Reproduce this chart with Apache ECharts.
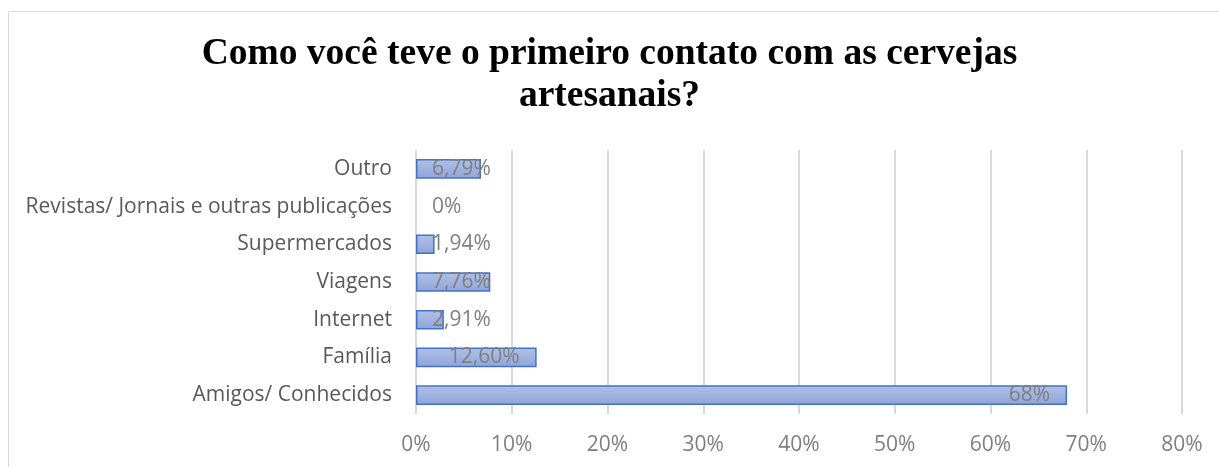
<!DOCTYPE html>
<html><head><meta charset="utf-8">
<script src="https://cdn.jsdelivr.net/npm/echarts@6/dist/echarts.min.js"></script>
<style>html,body{margin:0;padding:0;background:#fff;}#c{width:1219px;height:467px;}</style>
</head><body><div id="c"></div>
<script>
const categories = ['Amigos/ Conhecidos','Família','Internet','Viagens','Supermercados','Revistas/ Jornais e outras publicações','Outro'];
const values = [68, 12.60, 2.91, 7.76, 1.94, 0, 6.79];
const valueLabels = ['68%','12,60%','2,91%','7,76%','1,94%','0%','6,79%'];
const xTicks = [0,10,20,30,40,50,60,70,80];

const chart = echarts.init(document.getElementById('c'));
const data = values.map((v,i)=>({
  value: v,
  itemStyle: v === 0 ? {borderWidth:0} : undefined,
  label: {
    show: true,
    position: v < 10 ? 'insideLeft' : 'insideRight',
    distance: v < 10 ? 16 : 17,
    formatter: valueLabels[i]
  }
}));
chart.setOption({
  animation:false,
  graphic:[{type:'rect',shape:{x:8.5,y:11.5,width:1400,height:1000},style:{fill:'none',stroke:'#d9d9d9',lineWidth:1},silent:true,z:-10}],
  title:{
    text:'Como você teve o primeiro contato com as cervejas\nartesanais?',
    left:'center', top:28,
    textStyle:{fontFamily:'Liberation Serif',fontWeight:'bold',fontSize:37.5,color:'#000',lineHeight:42}
  },
  grid:{left:416,right:37,top:150,bottom:53,containLabel:false},
  xAxis:{
    type:'value',min:xTicks[0],max:xTicks[xTicks.length-1],interval:10,
    axisLabel:{formatter:v=>v+'%',color:'#7f7f7f',fontFamily:'Open Sans',fontSize:21,margin:21},
    splitLine:{lineStyle:{color:'#d9d9d9',width:2}},
    axisLine:{show:false},axisTick:{show:false}
  },
  yAxis:{
    type:'category',data:categories,
    axisLabel:{color:'#595959',fontFamily:'Open Sans',fontSize:21,margin:24},
    axisLine:{show:false},axisTick:{show:false}
  },
  series:[{
    type:'bar',data:data,barCategoryGap:'48%',
    itemStyle:{
      color:new echarts.graphic.LinearGradient(0,0,0,1,[{offset:0,color:'#b1c0e6'},{offset:1,color:'#8ea4d9'}]),
      borderColor:'#4472c4',borderWidth:1.5
    },
    label:{color:'#7f7f7f',fontFamily:'Open Sans',fontSize:21}
  }]
});
</script></body></html>
